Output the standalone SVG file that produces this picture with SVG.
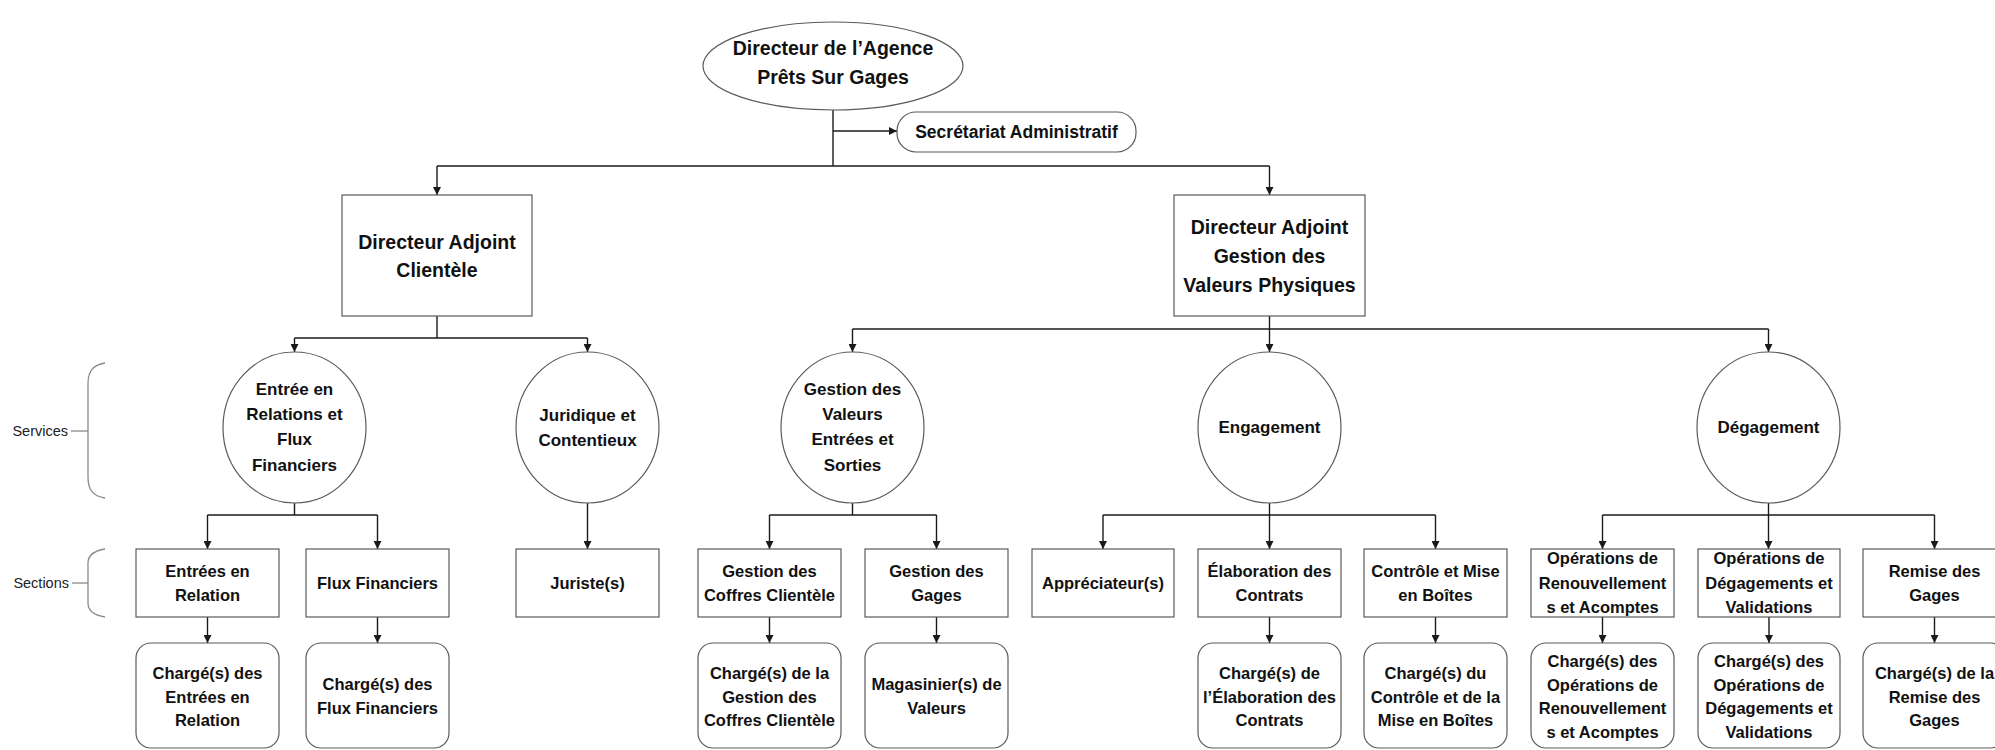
<svg xmlns="http://www.w3.org/2000/svg" width="1995" height="750" viewBox="0 0 1995 750">
<defs>
<marker id="arr" markerUnits="userSpaceOnUse" markerWidth="9" markerHeight="8" refX="8" refY="4" orient="auto">
<path d="M0,0 L8,4 L0,8 z" fill="#1a1a1a"/>
</marker>
<style>
text{font-family:"Liberation Sans",Arial,sans-serif;font-weight:bold;fill:#111;text-anchor:middle;dominant-baseline:central}
.t20{font-size:19.5px}
.t18{font-size:17.5px}
.t17{font-size:17px}
.t16{font-size:16.5px}
.lbl{font-weight:normal;font-size:14.5px;text-anchor:end;fill:#222}
.shape{fill:#fff;stroke:#5a5a5a;stroke-width:1.2}
.con path{fill:none;stroke:#1a1a1a;stroke-width:1.4}
.con path.a{marker-end:url(#arr)}
.brace{fill:none;stroke:#8a8a8a;stroke-width:1.3}
</style>
</defs>
<rect width="1995" height="750" fill="#fff"/>

<g id="connectors" class="con">
<path d="M833,110 V166"/>
<path class="a" d="M833,131 H897"/>
<path d="M437,166 H1269.5"/>
<path class="a" d="M437,166 V195"/>
<path class="a" d="M1269.5,166 V195"/>
<path d="M437,316 V338"/>
<path d="M294.5,338 H587.5"/>
<path class="a" d="M294.5,338 V352"/>
<path class="a" d="M587.5,338 V352"/>
<path class="a" d="M1269.5,316 V352"/>
<path d="M852.5,329 H1768.5"/>
<path class="a" d="M852.5,329 V352"/>
<path class="a" d="M1768.5,329 V352"/>
<path d="M294.5,503 V515"/>
<path d="M207.5,515 H377.5"/>
<path class="a" d="M207.5,515 V549"/>
<path class="a" d="M377.5,515 V549"/>
<path class="a" d="M587.5,503 V549"/>
<path d="M852.5,503 V515"/>
<path d="M769.5,515 H936.5"/>
<path class="a" d="M769.5,515 V549"/>
<path class="a" d="M936.5,515 V549"/>
<path class="a" d="M1269.5,503 V549"/>
<path d="M1103,515 H1435.5"/>
<path class="a" d="M1103,515 V549"/>
<path class="a" d="M1435.5,515 V549"/>
<path class="a" d="M1768.5,503 V549"/>
<path d="M1602.5,515 H1934.5"/>
<path class="a" d="M1602.5,515 V549"/>
<path class="a" d="M1934.5,515 V549"/>
<path class="a" d="M207.5,617 V643"/>
<path class="a" d="M377.5,617 V643"/>
<path class="a" d="M769.5,617 V643"/>
<path class="a" d="M936.5,617 V643"/>
<path class="a" d="M1269.5,617 V643"/>
<path class="a" d="M1435.5,617 V643"/>
<path class="a" d="M1602.5,617 V643"/>
<path class="a" d="M1769,617 V643"/>
<path class="a" d="M1934.5,617 V643"/>
</g>

<g id="legend-services">
<path class="brace" d="M105,363 C93,365 88,371 88,384 L88,477 C88,490 93,496 105,498"/>
<path class="brace" d="M71,431 H88"/>
<text class="lbl" x="68" y="431">Services</text>
</g>
<g id="legend-sections">
<path class="brace" d="M105,549 C93,551 88,556 88,563 L88,603 C88,610 93,615 105,617"/>
<path class="brace" d="M72,583 H88"/>
<text class="lbl" x="69" y="583">Sections</text>
</g>

<g id="n-directeur">
<ellipse class="shape" cx="833" cy="66" rx="130" ry="44"/>
<text class="t20" x="833" y="48">Directeur de l’Agence</text>
<text class="t20" x="833" y="77">Prêts Sur Gages</text>
</g>
<g id="n-secretariat">
<rect class="shape" x="897" y="112" width="239" height="40" rx="19"/>
<text class="t18" x="1016.5" y="132">Secrétariat Administratif</text>
</g>
<g id="n-da-clientele">
<rect class="shape" x="342" y="195" width="190" height="121"/>
<text class="t20" x="437" y="242">Directeur Adjoint</text>
<text class="t20" x="437" y="270">Clientèle</text>
</g>
<g id="n-da-gvp">
<rect class="shape" x="1174" y="195" width="191" height="121"/>
<text class="t20" x="1269.5" y="227">Directeur Adjoint</text>
<text class="t20" x="1269.5" y="256">Gestion des</text>
<text class="t20" x="1269.5" y="285">Valeurs Physiques</text>
</g>

<g id="s-entree">
<ellipse class="shape" cx="294.5" cy="427.5" rx="71.5" ry="75.5"/>
<text class="t17" x="294.5" y="389">Entrée en</text>
<text class="t17" x="294.5" y="414">Relations et</text>
<text class="t17" x="294.5" y="439">Flux</text>
<text class="t17" x="294.5" y="465">Financiers</text>
</g>
<g id="s-juridique">
<ellipse class="shape" cx="587.5" cy="427.5" rx="71.5" ry="75.5"/>
<text class="t17" x="587.5" y="415">Juridique et</text>
<text class="t17" x="587.5" y="440">Contentieux</text>
</g>
<g id="s-gves">
<ellipse class="shape" cx="852.5" cy="427.5" rx="71.5" ry="75.5"/>
<text class="t17" x="852.5" y="389">Gestion des</text>
<text class="t17" x="852.5" y="414">Valeurs</text>
<text class="t17" x="852.5" y="439">Entrées et</text>
<text class="t17" x="852.5" y="465">Sorties</text>
</g>
<g id="s-engagement">
<ellipse class="shape" cx="1269.5" cy="427.5" rx="71.5" ry="75.5"/>
<text class="t17" x="1269.5" y="427.5">Engagement</text>
</g>
<g id="s-degagement">
<ellipse class="shape" cx="1768.5" cy="427.5" rx="71.5" ry="75.5"/>
<text class="t17" x="1768.5" y="427.5">Dégagement</text>
</g>

<g id="sec-entrees">
<rect class="shape" x="136" y="549" width="143" height="68"/>
<text class="t16" x="207.5" y="571">Entrées en</text>
<text class="t16" x="207.5" y="595">Relation</text>
</g>
<g id="sec-flux">
<rect class="shape" x="306" y="549" width="143" height="68"/>
<text class="t16" x="377.5" y="583">Flux Financiers</text>
</g>
<g id="sec-juriste">
<rect class="shape" x="516" y="549" width="143" height="68"/>
<text class="t16" x="587.5" y="583">Juriste(s)</text>
</g>
<g id="sec-coffres">
<rect class="shape" x="698" y="549" width="143" height="68"/>
<text class="t16" x="769.5" y="571">Gestion des</text>
<text class="t16" x="769.5" y="595">Coffres Clientèle</text>
</g>
<g id="sec-gages">
<rect class="shape" x="865" y="549" width="143" height="68"/>
<text class="t16" x="936.5" y="571">Gestion des</text>
<text class="t16" x="936.5" y="595">Gages</text>
</g>
<g id="sec-appreciateur">
<rect class="shape" x="1032" y="549" width="142" height="68"/>
<text class="t16" x="1103" y="583">Appréciateur(s)</text>
</g>
<g id="sec-elaboration">
<rect class="shape" x="1198" y="549" width="143" height="68"/>
<text class="t16" x="1269.5" y="571">Élaboration des</text>
<text class="t16" x="1269.5" y="595">Contrats</text>
</g>
<g id="sec-controle">
<rect class="shape" x="1364" y="549" width="143" height="68"/>
<text class="t16" x="1435.5" y="571">Contrôle et Mise</text>
<text class="t16" x="1435.5" y="595">en Boîtes</text>
</g>
<g id="sec-renouvellement">
<rect class="shape" x="1531" y="549" width="143" height="68"/>
<text class="t16" x="1602.5" y="558">Opérations de</text>
<text class="t16" x="1602.5" y="582.5">Renouvellement</text>
<text class="t16" x="1602.5" y="607">s et Acomptes</text>
</g>
<g id="sec-degagements">
<rect class="shape" x="1698" y="549" width="142" height="68"/>
<text class="t16" x="1769" y="558">Opérations de</text>
<text class="t16" x="1769" y="582.5">Dégagements et</text>
<text class="t16" x="1769" y="607">Validations</text>
</g>
<g id="sec-remise">
<rect class="shape" x="1863" y="549" width="143" height="68"/>
<text class="t16" x="1934.5" y="571">Remise des</text>
<text class="t16" x="1934.5" y="595">Gages</text>
</g>

<g id="ch-entrees">
<rect class="shape" x="136" y="643" width="143" height="105" rx="15"/>
<text class="t16" x="207.5" y="673">Chargé(s) des</text>
<text class="t16" x="207.5" y="696.5">Entrées en</text>
<text class="t16" x="207.5" y="720">Relation</text>
</g>
<g id="ch-flux">
<rect class="shape" x="306" y="643" width="143" height="105" rx="15"/>
<text class="t16" x="377.5" y="684">Chargé(s) des</text>
<text class="t16" x="377.5" y="708">Flux Financiers</text>
</g>
<g id="ch-coffres">
<rect class="shape" x="698" y="643" width="143" height="105" rx="15"/>
<text class="t16" x="769.5" y="673">Chargé(s) de la</text>
<text class="t16" x="769.5" y="696.5">Gestion des</text>
<text class="t16" x="769.5" y="720">Coffres Clientèle</text>
</g>
<g id="ch-magasinier">
<rect class="shape" x="865" y="643" width="143" height="105" rx="15"/>
<text class="t16" x="936.5" y="684">Magasinier(s) de</text>
<text class="t16" x="936.5" y="708">Valeurs</text>
</g>
<g id="ch-elaboration">
<rect class="shape" x="1198" y="643" width="143" height="105" rx="15"/>
<text class="t16" x="1269.5" y="673">Chargé(s) de</text>
<text class="t16" x="1269.5" y="696.5">l’Élaboration des</text>
<text class="t16" x="1269.5" y="720">Contrats</text>
</g>
<g id="ch-controle">
<rect class="shape" x="1364" y="643" width="143" height="105" rx="15"/>
<text class="t16" x="1435.5" y="673">Chargé(s) du</text>
<text class="t16" x="1435.5" y="696.5">Contrôle et de la</text>
<text class="t16" x="1435.5" y="720">Mise en Boîtes</text>
</g>
<g id="ch-renouvellement">
<rect class="shape" x="1531" y="643" width="143" height="105" rx="15"/>
<text class="t16" x="1602.5" y="661">Chargé(s) des</text>
<text class="t16" x="1602.5" y="684.5">Opérations de</text>
<text class="t16" x="1602.5" y="708">Renouvellement</text>
<text class="t16" x="1602.5" y="732">s et Acomptes</text>
</g>
<g id="ch-degagements">
<rect class="shape" x="1698" y="643" width="142" height="105" rx="15"/>
<text class="t16" x="1769" y="661">Chargé(s) des</text>
<text class="t16" x="1769" y="684.5">Opérations de</text>
<text class="t16" x="1769" y="708">Dégagements et</text>
<text class="t16" x="1769" y="732">Validations</text>
</g>
<g id="ch-remise">
<rect class="shape" x="1863" y="643" width="143" height="105" rx="15"/>
<text class="t16" x="1934.5" y="673">Chargé(s) de la</text>
<text class="t16" x="1934.5" y="696.5">Remise des</text>
<text class="t16" x="1934.5" y="720">Gages</text>
</g>
</svg>
